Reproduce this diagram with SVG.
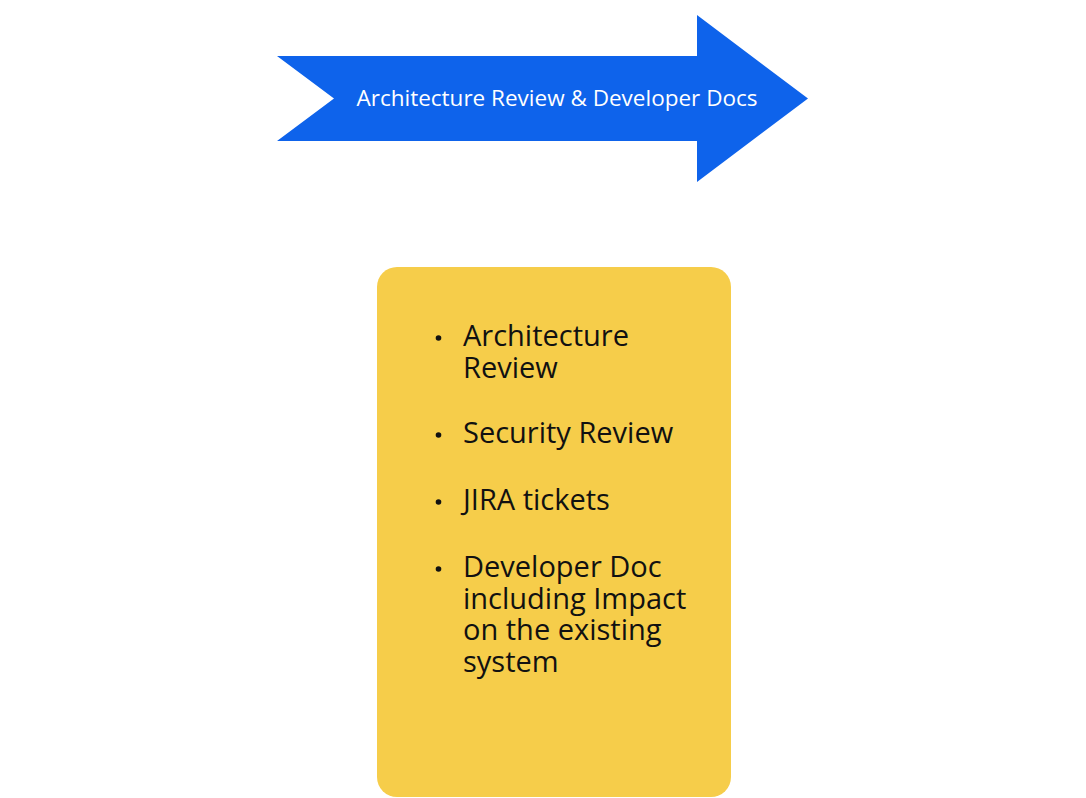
<svg xmlns="http://www.w3.org/2000/svg" width="1086" height="798" viewBox="0 0 1086 798">
<style>
.hdr{font-family:"Open Sans","Liberation Sans",sans-serif;font-size:22.5px;fill:#ffffff}
.item{font-family:"Open Sans","Liberation Sans",sans-serif;font-size:29px;fill:#111111}
.bul{fill:#111111}
</style>
<rect width="1086" height="798" fill="#ffffff"/>
<g id="banner">
<polygon points="277,56 697,56 697,15 808,98.5 697,182 697,141 277,141 334,98.5" fill="#0E63EB"/>
<text class="hdr" x="557" y="106" text-anchor="middle">Architecture Review &amp; Developer Docs</text>
</g>
<g id="card">
<rect x="377" y="267" width="354" height="530" rx="20" fill="#F6CD4A"/>
<circle class="bul" cx="438.5" cy="338" r="2.8"/>
<text class="item" x="463" y="346">Architecture<tspan x="463" dy="31.5">Review</tspan></text>
<circle class="bul" cx="438.5" cy="435" r="2.8"/>
<text class="item" x="463" y="443">Security Review</text>
<circle class="bul" cx="438.5" cy="502" r="2.8"/>
<text class="item" x="463" y="510">JIRA tickets</text>
<circle class="bul" cx="438.5" cy="569" r="2.8"/>
<text class="item" x="463" y="577">Developer Doc<tspan x="463" dy="31.5">including Impact</tspan><tspan x="463" dy="31.5">on the existing</tspan><tspan x="463" dy="31.5">system</tspan></text>
</g>
</svg>
